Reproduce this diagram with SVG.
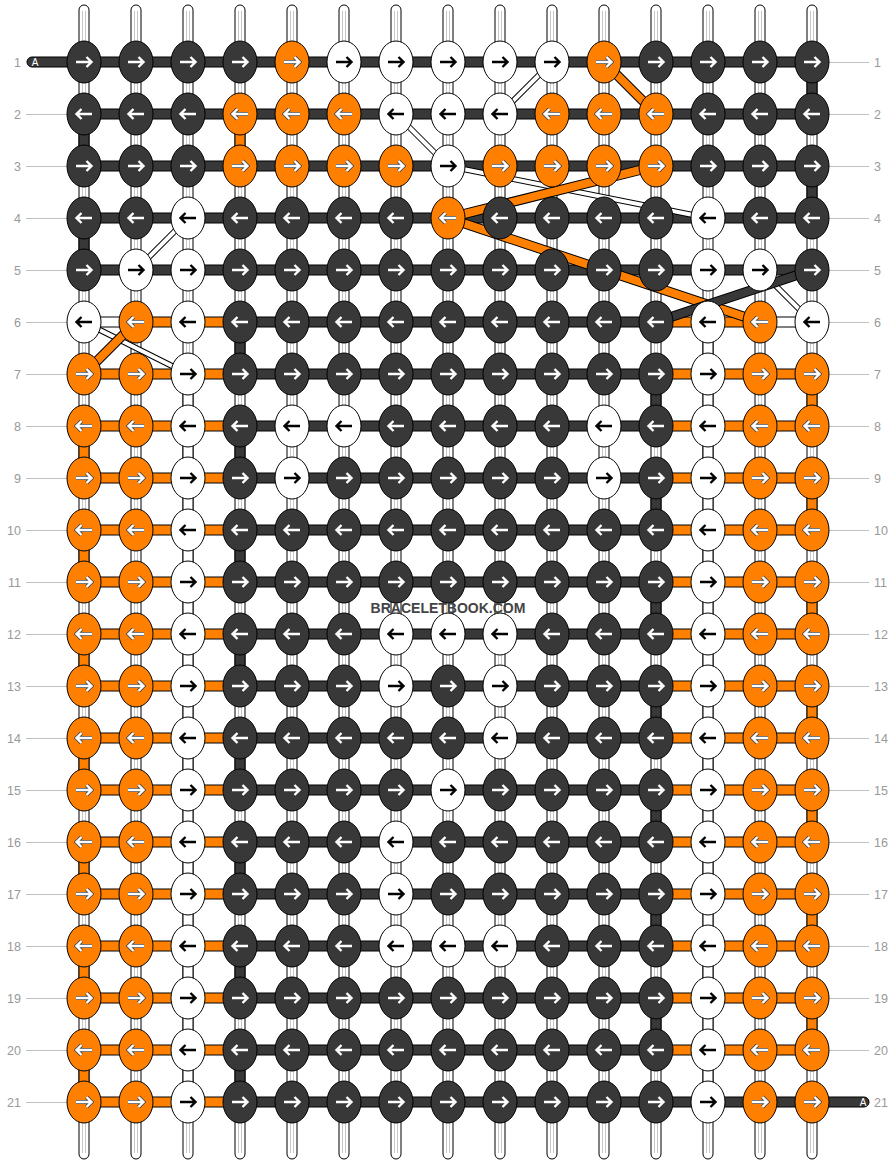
<svg xmlns="http://www.w3.org/2000/svg" width="896" height="1164" viewBox="0 0 896 1164">
<style>
.st{fill:#fff;stroke:#000;stroke-width:1}
.sl{fill:none;stroke:#c8c8c8;stroke-width:1}
.d{fill:#383838;stroke:#000;stroke-width:1}
.o{fill:#ff8000;stroke:#000;stroke-width:1}
.w{fill:#fff;stroke:#000;stroke-width:1}
.aw{fill:none;stroke:#fff;stroke-width:2.4}
.ao{fill:none;stroke:#4a4a4a;stroke-width:4}
.ab{fill:none;stroke:#000;stroke-width:2.4}
.lab{font-family:'Liberation Sans',Arial,sans-serif;font-size:12.5px;fill:#999}
.ll{fill:none;stroke:#c0c0c0;stroke-width:1}
.bk{fill:none;stroke:#000;stroke-width:10}
.bo{fill:none;stroke:#ff8000;stroke-width:8}
.bd{fill:none;stroke:#383838;stroke-width:8}
.wk{fill:none;stroke:#000;stroke-width:6}
.ww{fill:none;stroke:#fff;stroke-width:4}
.pa{font-family:'Liberation Sans',Arial,sans-serif;font-size:10px;fill:#fff;text-anchor:middle}
</style>
<defs>
<g id="Dr"><ellipse rx="17" ry="21" class="d"/><path class="aw" d="M-8,0H7M2.5,-5L7.5,0L2.5,5"/></g>
<g id="Dl"><ellipse rx="17" ry="21" class="d"/><path class="aw" d="M8,0H-7M-2.5,-5L-7.5,0L-2.5,5"/></g>
<g id="Or"><ellipse rx="17" ry="21" class="o"/><path class="ao" d="M-8,0H7M2.5,-5L7.5,0L2.5,5"/><path class="aw" d="M-8,0H7M2.5,-5L7.5,0L2.5,5"/></g>
<g id="Ol"><ellipse rx="17" ry="21" class="o"/><path class="ao" d="M8,0H-7M-2.5,-5L-7.5,0L-2.5,5"/><path class="aw" d="M8,0H-7M-2.5,-5L-7.5,0L-2.5,5"/></g>
<g id="Wr"><ellipse rx="17" ry="21" class="w"/><path class="ab" d="M-8,0H7M2.5,-5L7.5,0L2.5,5"/></g>
<g id="Wl"><ellipse rx="17" ry="21" class="w"/><path class="ab" d="M8,0H-7M-2.5,-5L-7.5,0L-2.5,5"/></g>
</defs>

<g id="labels">
<path class="ll" d="M26 114.5H67M26 166.5H67M26 218.5H67M26 270.5H67M26 322.5H67M26 374.5H67M26 426.5H67M26 478.5H67M26 530.5H67M26 582.5H67M26 634.5H67M26 686.5H67M26 738.5H67M26 790.5H67M26 842.5H67M26 894.5H67M26 946.5H67M26 998.5H67M26 1050.5H67M26 1102.5H67"/>
<path class="ll" d="M829 62.5H869M829 114.5H869M829 166.5H869M829 218.5H869M829 270.5H869M829 322.5H869M829 374.5H869M829 426.5H869M829 478.5H869M829 530.5H869M829 582.5H869M829 634.5H869M829 686.5H869M829 738.5H869M829 790.5H869M829 842.5H869M829 894.5H869M829 946.5H869M829 998.5H869M829 1050.5H869"/>
<g class="lab" text-anchor="end">
<text x="21" y="66.5">1</text><text x="21" y="118.5">2</text><text x="21" y="170.5">3</text><text x="21" y="222.5">4</text><text x="21" y="274.5">5</text><text x="21" y="326.5">6</text><text x="21" y="378.5">7</text><text x="21" y="430.5">8</text><text x="21" y="482.5">9</text><text x="21" y="534.5">10</text><text x="21" y="586.5">11</text><text x="21" y="638.5">12</text><text x="21" y="690.5">13</text><text x="21" y="742.5">14</text><text x="21" y="794.5">15</text><text x="21" y="846.5">16</text><text x="21" y="898.5">17</text><text x="21" y="950.5">18</text><text x="21" y="1002.5">19</text><text x="21" y="1054.5">20</text><text x="21" y="1106.5">21</text>
</g>
<g class="lab">
<text x="874" y="66.5">1</text><text x="874" y="118.5">2</text><text x="874" y="170.5">3</text><text x="874" y="222.5">4</text><text x="874" y="274.5">5</text><text x="874" y="326.5">6</text><text x="874" y="378.5">7</text><text x="874" y="430.5">8</text><text x="874" y="482.5">9</text><text x="874" y="534.5">10</text><text x="874" y="586.5">11</text><text x="874" y="638.5">12</text><text x="874" y="690.5">13</text><text x="874" y="742.5">14</text><text x="874" y="794.5">15</text><text x="874" y="846.5">16</text><text x="874" y="898.5">17</text><text x="874" y="950.5">18</text><text x="874" y="1002.5">19</text><text x="874" y="1054.5">20</text><text x="874" y="1106.5">21</text>
</g>
</g>

<g id="strands">
<rect class="st" x="79" y="5" width="10" height="1154" rx="5"/>
<rect class="st" x="131" y="5" width="10" height="1154" rx="5"/>
<rect class="st" x="183" y="5" width="10" height="1154" rx="5"/>
<rect class="st" x="235" y="5" width="10" height="1154" rx="5"/>
<rect class="st" x="287" y="5" width="10" height="1154" rx="5"/>
<rect class="st" x="339" y="5" width="10" height="1154" rx="5"/>
<rect class="st" x="391" y="5" width="10" height="1154" rx="5"/>
<rect class="st" x="443" y="5" width="10" height="1154" rx="5"/>
<rect class="st" x="495" y="5" width="10" height="1154" rx="5"/>
<rect class="st" x="547" y="5" width="10" height="1154" rx="5"/>
<rect class="st" x="599" y="5" width="10" height="1154" rx="5"/>
<rect class="st" x="651" y="5" width="10" height="1154" rx="5"/>
<rect class="st" x="703" y="5" width="10" height="1154" rx="5"/>
<rect class="st" x="755" y="5" width="10" height="1154" rx="5"/>
<rect class="st" x="807" y="5" width="10" height="1154" rx="5"/>
<path class="sl" d="M82.5 11V1153M85.5 11V1153M134.5 11V1153M137.5 11V1153M186.5 11V1153M189.5 11V1153M238.5 11V1153M241.5 11V1153M290.5 11V1153M293.5 11V1153M342.5 11V1153M345.5 11V1153M394.5 11V1153M397.5 11V1153M446.5 11V1153M449.5 11V1153M498.5 11V1153M501.5 11V1153M550.5 11V1153M553.5 11V1153M602.5 11V1153M605.5 11V1153M654.5 11V1153M657.5 11V1153M706.5 11V1153M709.5 11V1153M758.5 11V1153M761.5 11V1153M810.5 11V1153M813.5 11V1153"/>
</g>

<g id="connectors">
<g id="vertical">
<rect class="w" x="183" y="374" width="10" height="728"/>
<rect class="w" x="703" y="322" width="10" height="780"/>
<rect class="d" x="79" y="128" width="10" height="24"/>
<rect class="d" x="79" y="232" width="10" height="24"/>
<rect class="d" x="807" y="76" width="10" height="24"/>
<rect class="d" x="807" y="180" width="10" height="24"/>
<rect class="o" x="235" y="128" width="10" height="24"/>
<rect class="d" x="235" y="336" width="10" height="24"/>
<rect class="d" x="235" y="440" width="10" height="24"/>
<rect class="d" x="235" y="544" width="10" height="24"/>
<rect class="d" x="235" y="648" width="10" height="24"/>
<rect class="d" x="235" y="752" width="10" height="24"/>
<rect class="d" x="235" y="856" width="10" height="24"/>
<rect class="d" x="235" y="960" width="10" height="24"/>
<rect class="d" x="235" y="1064" width="10" height="24"/>
<rect class="d" x="651" y="388" width="10" height="24"/>
<rect class="d" x="651" y="492" width="10" height="24"/>
<rect class="d" x="651" y="596" width="10" height="24"/>
<rect class="d" x="651" y="700" width="10" height="24"/>
<rect class="d" x="651" y="804" width="10" height="24"/>
<rect class="d" x="651" y="908" width="10" height="24"/>
<rect class="d" x="651" y="1012" width="10" height="24"/>
<rect class="o" x="79" y="440" width="10" height="24"/>
<rect class="o" x="79" y="544" width="10" height="24"/>
<rect class="o" x="79" y="648" width="10" height="24"/>
<rect class="o" x="79" y="752" width="10" height="24"/>
<rect class="o" x="79" y="856" width="10" height="24"/>
<rect class="o" x="79" y="960" width="10" height="24"/>
<rect class="o" x="79" y="1064" width="10" height="24"/>
<rect class="o" x="807" y="388" width="10" height="24"/>
<rect class="o" x="807" y="492" width="10" height="24"/>
<rect class="o" x="807" y="596" width="10" height="24"/>
<rect class="o" x="807" y="700" width="10" height="24"/>
<rect class="o" x="807" y="804" width="10" height="24"/>
<rect class="o" x="807" y="908" width="10" height="24"/>
<rect class="o" x="807" y="1012" width="10" height="24"/>
</g>
<g id="rows">
<rect class="d" x="27" y="57" width="785" height="10" rx="5"/>
<rect class="d" x="84" y="109" width="728" height="10"/>
<rect class="d" x="84" y="161" width="728" height="10"/>
<rect class="d" x="84" y="213" width="728" height="10"/>
<rect class="d" x="84" y="265" width="728" height="10"/>
<rect class="w" x="84" y="317" width="52" height="10"/><rect class="o" x="136" y="317" width="104" height="10"/><rect class="d" x="240" y="317" width="416" height="10"/><rect class="o" x="656" y="317" width="104" height="10"/><rect class="w" x="760" y="317" width="52" height="10"/>
<rect class="o" x="84" y="369" width="156" height="10"/><rect class="d" x="240" y="369" width="416" height="10"/><rect class="o" x="656" y="369" width="156" height="10"/>
<rect class="o" x="84" y="421" width="156" height="10"/><rect class="d" x="240" y="421" width="416" height="10"/><rect class="o" x="656" y="421" width="156" height="10"/>
<rect class="o" x="84" y="473" width="156" height="10"/><rect class="d" x="240" y="473" width="416" height="10"/><rect class="o" x="656" y="473" width="156" height="10"/>
<rect class="o" x="84" y="525" width="156" height="10"/><rect class="d" x="240" y="525" width="416" height="10"/><rect class="o" x="656" y="525" width="156" height="10"/>
<rect class="o" x="84" y="577" width="156" height="10"/><rect class="d" x="240" y="577" width="416" height="10"/><rect class="o" x="656" y="577" width="156" height="10"/>
<rect class="o" x="84" y="629" width="156" height="10"/><rect class="d" x="240" y="629" width="416" height="10"/><rect class="o" x="656" y="629" width="156" height="10"/>
<rect class="o" x="84" y="681" width="156" height="10"/><rect class="d" x="240" y="681" width="416" height="10"/><rect class="o" x="656" y="681" width="156" height="10"/>
<rect class="o" x="84" y="733" width="156" height="10"/><rect class="d" x="240" y="733" width="416" height="10"/><rect class="o" x="656" y="733" width="156" height="10"/>
<rect class="o" x="84" y="785" width="156" height="10"/><rect class="d" x="240" y="785" width="416" height="10"/><rect class="o" x="656" y="785" width="156" height="10"/>
<rect class="o" x="84" y="837" width="156" height="10"/><rect class="d" x="240" y="837" width="416" height="10"/><rect class="o" x="656" y="837" width="156" height="10"/>
<rect class="o" x="84" y="889" width="156" height="10"/><rect class="d" x="240" y="889" width="416" height="10"/><rect class="o" x="656" y="889" width="156" height="10"/>
<rect class="o" x="84" y="941" width="156" height="10"/><rect class="d" x="240" y="941" width="416" height="10"/><rect class="o" x="656" y="941" width="156" height="10"/>
<rect class="o" x="84" y="993" width="156" height="10"/><rect class="d" x="240" y="993" width="416" height="10"/><rect class="o" x="656" y="993" width="156" height="10"/>
<rect class="o" x="84" y="1045" width="156" height="10"/><rect class="d" x="240" y="1045" width="416" height="10"/><rect class="o" x="656" y="1045" width="156" height="10"/>
<rect class="o" x="84" y="1097" width="156" height="10"/><rect class="d" x="240" y="1097" width="629" height="10" rx="5"/>
<text class="pa" x="35" y="65.5">A</text>
<text class="pa" x="863" y="1105.5">A</text>
</g>
<g id="diagonals">
<path class="wk" d="M552 62L500 114M396 114L448 166M448 166L708 218M188 218L136 270M760 270L812 322M84 322L188 374"/>
<path class="ww" d="M552 62L500 114M396 114L448 166M448 166L708 218M188 218L136 270M760 270L812 322M84 322L188 374"/>
<path class="bk" d="M604 62L656 114M656 166L448 218M448 218L760 322M136 322L84 374"/>
<path class="bo" d="M604 62L656 114M656 166L448 218M448 218L760 322M136 322L84 374"/>
<path class="bk" d="M812 270L656 322"/>
<path class="bd" d="M812 270L656 322"/>
</g>
</g>

<g id="knots">
<g id="k1-1"><use href="#Dr" x="84" y="62"/></g><g id="k1-2"><use href="#Dr" x="136" y="62"/></g><g id="k1-3"><use href="#Dr" x="188" y="62"/></g><g id="k1-4"><use href="#Dr" x="240" y="62"/></g><g id="k1-5"><use href="#Or" x="292" y="62"/></g><g id="k1-6"><use href="#Wr" x="344" y="62"/></g><g id="k1-7"><use href="#Wr" x="396" y="62"/></g><g id="k1-8"><use href="#Wr" x="448" y="62"/></g><g id="k1-9"><use href="#Wr" x="500" y="62"/></g><g id="k1-10"><use href="#Wr" x="552" y="62"/></g><g id="k1-11"><use href="#Or" x="604" y="62"/></g><g id="k1-12"><use href="#Dr" x="656" y="62"/></g><g id="k1-13"><use href="#Dr" x="708" y="62"/></g><g id="k1-14"><use href="#Dr" x="760" y="62"/></g><g id="k1-15"><use href="#Dr" x="812" y="62"/></g>
<g id="k2-1"><use href="#Dl" x="84" y="114"/></g><g id="k2-2"><use href="#Dl" x="136" y="114"/></g><g id="k2-3"><use href="#Dl" x="188" y="114"/></g><g id="k2-4"><use href="#Ol" x="240" y="114"/></g><g id="k2-5"><use href="#Ol" x="292" y="114"/></g><g id="k2-6"><use href="#Ol" x="344" y="114"/></g><g id="k2-7"><use href="#Wl" x="396" y="114"/></g><g id="k2-8"><use href="#Wl" x="448" y="114"/></g><g id="k2-9"><use href="#Wl" x="500" y="114"/></g><g id="k2-10"><use href="#Ol" x="552" y="114"/></g><g id="k2-11"><use href="#Ol" x="604" y="114"/></g><g id="k2-12"><use href="#Ol" x="656" y="114"/></g><g id="k2-13"><use href="#Dl" x="708" y="114"/></g><g id="k2-14"><use href="#Dl" x="760" y="114"/></g><g id="k2-15"><use href="#Dl" x="812" y="114"/></g>
<g id="k3-1"><use href="#Dr" x="84" y="166"/></g><g id="k3-2"><use href="#Dr" x="136" y="166"/></g><g id="k3-3"><use href="#Dr" x="188" y="166"/></g><g id="k3-4"><use href="#Or" x="240" y="166"/></g><g id="k3-5"><use href="#Or" x="292" y="166"/></g><g id="k3-6"><use href="#Or" x="344" y="166"/></g><g id="k3-7"><use href="#Or" x="396" y="166"/></g><g id="k3-8"><use href="#Wr" x="448" y="166"/></g><g id="k3-9"><use href="#Or" x="500" y="166"/></g><g id="k3-10"><use href="#Or" x="552" y="166"/></g><g id="k3-11"><use href="#Or" x="604" y="166"/></g><g id="k3-12"><use href="#Or" x="656" y="166"/></g><g id="k3-13"><use href="#Dr" x="708" y="166"/></g><g id="k3-14"><use href="#Dr" x="760" y="166"/></g><g id="k3-15"><use href="#Dr" x="812" y="166"/></g>
<g id="k4-1"><use href="#Dl" x="84" y="218"/></g><g id="k4-2"><use href="#Dl" x="136" y="218"/></g><g id="k4-3"><use href="#Wl" x="188" y="218"/></g><g id="k4-4"><use href="#Dl" x="240" y="218"/></g><g id="k4-5"><use href="#Dl" x="292" y="218"/></g><g id="k4-6"><use href="#Dl" x="344" y="218"/></g><g id="k4-7"><use href="#Dl" x="396" y="218"/></g><g id="k4-8"><use href="#Ol" x="448" y="218"/></g><g id="k4-9"><use href="#Dl" x="500" y="218"/></g><g id="k4-10"><use href="#Dl" x="552" y="218"/></g><g id="k4-11"><use href="#Dl" x="604" y="218"/></g><g id="k4-12"><use href="#Dl" x="656" y="218"/></g><g id="k4-13"><use href="#Wl" x="708" y="218"/></g><g id="k4-14"><use href="#Dl" x="760" y="218"/></g><g id="k4-15"><use href="#Dl" x="812" y="218"/></g>
<g id="k5-1"><use href="#Dr" x="84" y="270"/></g><g id="k5-2"><use href="#Wr" x="136" y="270"/></g><g id="k5-3"><use href="#Wr" x="188" y="270"/></g><g id="k5-4"><use href="#Dr" x="240" y="270"/></g><g id="k5-5"><use href="#Dr" x="292" y="270"/></g><g id="k5-6"><use href="#Dr" x="344" y="270"/></g><g id="k5-7"><use href="#Dr" x="396" y="270"/></g><g id="k5-8"><use href="#Dr" x="448" y="270"/></g><g id="k5-9"><use href="#Dr" x="500" y="270"/></g><g id="k5-10"><use href="#Dr" x="552" y="270"/></g><g id="k5-11"><use href="#Dr" x="604" y="270"/></g><g id="k5-12"><use href="#Dr" x="656" y="270"/></g><g id="k5-13"><use href="#Wr" x="708" y="270"/></g><g id="k5-14"><use href="#Wr" x="760" y="270"/></g><g id="k5-15"><use href="#Dr" x="812" y="270"/></g>
<g id="k6-1"><use href="#Wl" x="84" y="322"/></g><g id="k6-2"><use href="#Ol" x="136" y="322"/></g><g id="k6-3"><use href="#Wl" x="188" y="322"/></g><g id="k6-4"><use href="#Dl" x="240" y="322"/></g><g id="k6-5"><use href="#Dl" x="292" y="322"/></g><g id="k6-6"><use href="#Dl" x="344" y="322"/></g><g id="k6-7"><use href="#Dl" x="396" y="322"/></g><g id="k6-8"><use href="#Dl" x="448" y="322"/></g><g id="k6-9"><use href="#Dl" x="500" y="322"/></g><g id="k6-10"><use href="#Dl" x="552" y="322"/></g><g id="k6-11"><use href="#Dl" x="604" y="322"/></g><g id="k6-12"><use href="#Dl" x="656" y="322"/></g><g id="k6-13"><use href="#Wl" x="708" y="322"/></g><g id="k6-14"><use href="#Ol" x="760" y="322"/></g><g id="k6-15"><use href="#Wl" x="812" y="322"/></g>
<g id="k7-1"><use href="#Or" x="84" y="374"/></g><g id="k7-2"><use href="#Or" x="136" y="374"/></g><g id="k7-3"><use href="#Wr" x="188" y="374"/></g><g id="k7-4"><use href="#Dr" x="240" y="374"/></g><g id="k7-5"><use href="#Dr" x="292" y="374"/></g><g id="k7-6"><use href="#Dr" x="344" y="374"/></g><g id="k7-7"><use href="#Dr" x="396" y="374"/></g><g id="k7-8"><use href="#Dr" x="448" y="374"/></g><g id="k7-9"><use href="#Dr" x="500" y="374"/></g><g id="k7-10"><use href="#Dr" x="552" y="374"/></g><g id="k7-11"><use href="#Dr" x="604" y="374"/></g><g id="k7-12"><use href="#Dr" x="656" y="374"/></g><g id="k7-13"><use href="#Wr" x="708" y="374"/></g><g id="k7-14"><use href="#Or" x="760" y="374"/></g><g id="k7-15"><use href="#Or" x="812" y="374"/></g>
<g id="k8-1"><use href="#Ol" x="84" y="426"/></g><g id="k8-2"><use href="#Ol" x="136" y="426"/></g><g id="k8-3"><use href="#Wl" x="188" y="426"/></g><g id="k8-4"><use href="#Dl" x="240" y="426"/></g><g id="k8-5"><use href="#Wl" x="292" y="426"/></g><g id="k8-6"><use href="#Wl" x="344" y="426"/></g><g id="k8-7"><use href="#Dl" x="396" y="426"/></g><g id="k8-8"><use href="#Dl" x="448" y="426"/></g><g id="k8-9"><use href="#Dl" x="500" y="426"/></g><g id="k8-10"><use href="#Dl" x="552" y="426"/></g><g id="k8-11"><use href="#Wl" x="604" y="426"/></g><g id="k8-12"><use href="#Dl" x="656" y="426"/></g><g id="k8-13"><use href="#Wl" x="708" y="426"/></g><g id="k8-14"><use href="#Ol" x="760" y="426"/></g><g id="k8-15"><use href="#Ol" x="812" y="426"/></g>
<g id="k9-1"><use href="#Or" x="84" y="478"/></g><g id="k9-2"><use href="#Or" x="136" y="478"/></g><g id="k9-3"><use href="#Wr" x="188" y="478"/></g><g id="k9-4"><use href="#Dr" x="240" y="478"/></g><g id="k9-5"><use href="#Wr" x="292" y="478"/></g><g id="k9-6"><use href="#Dr" x="344" y="478"/></g><g id="k9-7"><use href="#Dr" x="396" y="478"/></g><g id="k9-8"><use href="#Dr" x="448" y="478"/></g><g id="k9-9"><use href="#Dr" x="500" y="478"/></g><g id="k9-10"><use href="#Dr" x="552" y="478"/></g><g id="k9-11"><use href="#Wr" x="604" y="478"/></g><g id="k9-12"><use href="#Dr" x="656" y="478"/></g><g id="k9-13"><use href="#Wr" x="708" y="478"/></g><g id="k9-14"><use href="#Or" x="760" y="478"/></g><g id="k9-15"><use href="#Or" x="812" y="478"/></g>
<g id="k10-1"><use href="#Ol" x="84" y="530"/></g><g id="k10-2"><use href="#Ol" x="136" y="530"/></g><g id="k10-3"><use href="#Wl" x="188" y="530"/></g><g id="k10-4"><use href="#Dl" x="240" y="530"/></g><g id="k10-5"><use href="#Dl" x="292" y="530"/></g><g id="k10-6"><use href="#Dl" x="344" y="530"/></g><g id="k10-7"><use href="#Dl" x="396" y="530"/></g><g id="k10-8"><use href="#Dl" x="448" y="530"/></g><g id="k10-9"><use href="#Dl" x="500" y="530"/></g><g id="k10-10"><use href="#Dl" x="552" y="530"/></g><g id="k10-11"><use href="#Dl" x="604" y="530"/></g><g id="k10-12"><use href="#Dl" x="656" y="530"/></g><g id="k10-13"><use href="#Wl" x="708" y="530"/></g><g id="k10-14"><use href="#Ol" x="760" y="530"/></g><g id="k10-15"><use href="#Ol" x="812" y="530"/></g>
<g id="k11-1"><use href="#Or" x="84" y="582"/></g><g id="k11-2"><use href="#Or" x="136" y="582"/></g><g id="k11-3"><use href="#Wr" x="188" y="582"/></g><g id="k11-4"><use href="#Dr" x="240" y="582"/></g><g id="k11-5"><use href="#Dr" x="292" y="582"/></g><g id="k11-6"><use href="#Dr" x="344" y="582"/></g><g id="k11-7"><use href="#Dr" x="396" y="582"/></g><g id="k11-8"><use href="#Dr" x="448" y="582"/></g><g id="k11-9"><use href="#Dr" x="500" y="582"/></g><g id="k11-10"><use href="#Dr" x="552" y="582"/></g><g id="k11-11"><use href="#Dr" x="604" y="582"/></g><g id="k11-12"><use href="#Dr" x="656" y="582"/></g><g id="k11-13"><use href="#Wr" x="708" y="582"/></g><g id="k11-14"><use href="#Or" x="760" y="582"/></g><g id="k11-15"><use href="#Or" x="812" y="582"/></g>
<g id="k12-1"><use href="#Ol" x="84" y="634"/></g><g id="k12-2"><use href="#Ol" x="136" y="634"/></g><g id="k12-3"><use href="#Wl" x="188" y="634"/></g><g id="k12-4"><use href="#Dl" x="240" y="634"/></g><g id="k12-5"><use href="#Dl" x="292" y="634"/></g><g id="k12-6"><use href="#Dl" x="344" y="634"/></g><g id="k12-7"><use href="#Wl" x="396" y="634"/></g><g id="k12-8"><use href="#Wl" x="448" y="634"/></g><g id="k12-9"><use href="#Wl" x="500" y="634"/></g><g id="k12-10"><use href="#Dl" x="552" y="634"/></g><g id="k12-11"><use href="#Dl" x="604" y="634"/></g><g id="k12-12"><use href="#Dl" x="656" y="634"/></g><g id="k12-13"><use href="#Wl" x="708" y="634"/></g><g id="k12-14"><use href="#Ol" x="760" y="634"/></g><g id="k12-15"><use href="#Ol" x="812" y="634"/></g>
<g id="k13-1"><use href="#Or" x="84" y="686"/></g><g id="k13-2"><use href="#Or" x="136" y="686"/></g><g id="k13-3"><use href="#Wr" x="188" y="686"/></g><g id="k13-4"><use href="#Dr" x="240" y="686"/></g><g id="k13-5"><use href="#Dr" x="292" y="686"/></g><g id="k13-6"><use href="#Dr" x="344" y="686"/></g><g id="k13-7"><use href="#Wr" x="396" y="686"/></g><g id="k13-8"><use href="#Dr" x="448" y="686"/></g><g id="k13-9"><use href="#Wr" x="500" y="686"/></g><g id="k13-10"><use href="#Dr" x="552" y="686"/></g><g id="k13-11"><use href="#Dr" x="604" y="686"/></g><g id="k13-12"><use href="#Dr" x="656" y="686"/></g><g id="k13-13"><use href="#Wr" x="708" y="686"/></g><g id="k13-14"><use href="#Or" x="760" y="686"/></g><g id="k13-15"><use href="#Or" x="812" y="686"/></g>
<g id="k14-1"><use href="#Ol" x="84" y="738"/></g><g id="k14-2"><use href="#Ol" x="136" y="738"/></g><g id="k14-3"><use href="#Wl" x="188" y="738"/></g><g id="k14-4"><use href="#Dl" x="240" y="738"/></g><g id="k14-5"><use href="#Dl" x="292" y="738"/></g><g id="k14-6"><use href="#Dl" x="344" y="738"/></g><g id="k14-7"><use href="#Dl" x="396" y="738"/></g><g id="k14-8"><use href="#Dl" x="448" y="738"/></g><g id="k14-9"><use href="#Wl" x="500" y="738"/></g><g id="k14-10"><use href="#Dl" x="552" y="738"/></g><g id="k14-11"><use href="#Dl" x="604" y="738"/></g><g id="k14-12"><use href="#Dl" x="656" y="738"/></g><g id="k14-13"><use href="#Wl" x="708" y="738"/></g><g id="k14-14"><use href="#Ol" x="760" y="738"/></g><g id="k14-15"><use href="#Ol" x="812" y="738"/></g>
<g id="k15-1"><use href="#Or" x="84" y="790"/></g><g id="k15-2"><use href="#Or" x="136" y="790"/></g><g id="k15-3"><use href="#Wr" x="188" y="790"/></g><g id="k15-4"><use href="#Dr" x="240" y="790"/></g><g id="k15-5"><use href="#Dr" x="292" y="790"/></g><g id="k15-6"><use href="#Dr" x="344" y="790"/></g><g id="k15-7"><use href="#Dr" x="396" y="790"/></g><g id="k15-8"><use href="#Wr" x="448" y="790"/></g><g id="k15-9"><use href="#Dr" x="500" y="790"/></g><g id="k15-10"><use href="#Dr" x="552" y="790"/></g><g id="k15-11"><use href="#Dr" x="604" y="790"/></g><g id="k15-12"><use href="#Dr" x="656" y="790"/></g><g id="k15-13"><use href="#Wr" x="708" y="790"/></g><g id="k15-14"><use href="#Or" x="760" y="790"/></g><g id="k15-15"><use href="#Or" x="812" y="790"/></g>
<g id="k16-1"><use href="#Ol" x="84" y="842"/></g><g id="k16-2"><use href="#Ol" x="136" y="842"/></g><g id="k16-3"><use href="#Wl" x="188" y="842"/></g><g id="k16-4"><use href="#Dl" x="240" y="842"/></g><g id="k16-5"><use href="#Dl" x="292" y="842"/></g><g id="k16-6"><use href="#Dl" x="344" y="842"/></g><g id="k16-7"><use href="#Wl" x="396" y="842"/></g><g id="k16-8"><use href="#Dl" x="448" y="842"/></g><g id="k16-9"><use href="#Dl" x="500" y="842"/></g><g id="k16-10"><use href="#Dl" x="552" y="842"/></g><g id="k16-11"><use href="#Dl" x="604" y="842"/></g><g id="k16-12"><use href="#Dl" x="656" y="842"/></g><g id="k16-13"><use href="#Wl" x="708" y="842"/></g><g id="k16-14"><use href="#Ol" x="760" y="842"/></g><g id="k16-15"><use href="#Ol" x="812" y="842"/></g>
<g id="k17-1"><use href="#Or" x="84" y="894"/></g><g id="k17-2"><use href="#Or" x="136" y="894"/></g><g id="k17-3"><use href="#Wr" x="188" y="894"/></g><g id="k17-4"><use href="#Dr" x="240" y="894"/></g><g id="k17-5"><use href="#Dr" x="292" y="894"/></g><g id="k17-6"><use href="#Dr" x="344" y="894"/></g><g id="k17-7"><use href="#Wr" x="396" y="894"/></g><g id="k17-8"><use href="#Dr" x="448" y="894"/></g><g id="k17-9"><use href="#Dr" x="500" y="894"/></g><g id="k17-10"><use href="#Dr" x="552" y="894"/></g><g id="k17-11"><use href="#Dr" x="604" y="894"/></g><g id="k17-12"><use href="#Dr" x="656" y="894"/></g><g id="k17-13"><use href="#Wr" x="708" y="894"/></g><g id="k17-14"><use href="#Or" x="760" y="894"/></g><g id="k17-15"><use href="#Or" x="812" y="894"/></g>
<g id="k18-1"><use href="#Ol" x="84" y="946"/></g><g id="k18-2"><use href="#Ol" x="136" y="946"/></g><g id="k18-3"><use href="#Wl" x="188" y="946"/></g><g id="k18-4"><use href="#Dl" x="240" y="946"/></g><g id="k18-5"><use href="#Dl" x="292" y="946"/></g><g id="k18-6"><use href="#Dl" x="344" y="946"/></g><g id="k18-7"><use href="#Wl" x="396" y="946"/></g><g id="k18-8"><use href="#Wl" x="448" y="946"/></g><g id="k18-9"><use href="#Wl" x="500" y="946"/></g><g id="k18-10"><use href="#Dl" x="552" y="946"/></g><g id="k18-11"><use href="#Dl" x="604" y="946"/></g><g id="k18-12"><use href="#Dl" x="656" y="946"/></g><g id="k18-13"><use href="#Wl" x="708" y="946"/></g><g id="k18-14"><use href="#Ol" x="760" y="946"/></g><g id="k18-15"><use href="#Ol" x="812" y="946"/></g>
<g id="k19-1"><use href="#Or" x="84" y="998"/></g><g id="k19-2"><use href="#Or" x="136" y="998"/></g><g id="k19-3"><use href="#Wr" x="188" y="998"/></g><g id="k19-4"><use href="#Dr" x="240" y="998"/></g><g id="k19-5"><use href="#Dr" x="292" y="998"/></g><g id="k19-6"><use href="#Dr" x="344" y="998"/></g><g id="k19-7"><use href="#Dr" x="396" y="998"/></g><g id="k19-8"><use href="#Dr" x="448" y="998"/></g><g id="k19-9"><use href="#Dr" x="500" y="998"/></g><g id="k19-10"><use href="#Dr" x="552" y="998"/></g><g id="k19-11"><use href="#Dr" x="604" y="998"/></g><g id="k19-12"><use href="#Dr" x="656" y="998"/></g><g id="k19-13"><use href="#Wr" x="708" y="998"/></g><g id="k19-14"><use href="#Or" x="760" y="998"/></g><g id="k19-15"><use href="#Or" x="812" y="998"/></g>
<g id="k20-1"><use href="#Ol" x="84" y="1050"/></g><g id="k20-2"><use href="#Ol" x="136" y="1050"/></g><g id="k20-3"><use href="#Wl" x="188" y="1050"/></g><g id="k20-4"><use href="#Dl" x="240" y="1050"/></g><g id="k20-5"><use href="#Dl" x="292" y="1050"/></g><g id="k20-6"><use href="#Dl" x="344" y="1050"/></g><g id="k20-7"><use href="#Dl" x="396" y="1050"/></g><g id="k20-8"><use href="#Dl" x="448" y="1050"/></g><g id="k20-9"><use href="#Dl" x="500" y="1050"/></g><g id="k20-10"><use href="#Dl" x="552" y="1050"/></g><g id="k20-11"><use href="#Dl" x="604" y="1050"/></g><g id="k20-12"><use href="#Dl" x="656" y="1050"/></g><g id="k20-13"><use href="#Wl" x="708" y="1050"/></g><g id="k20-14"><use href="#Ol" x="760" y="1050"/></g><g id="k20-15"><use href="#Ol" x="812" y="1050"/></g>
<g id="k21-1"><use href="#Or" x="84" y="1102"/></g><g id="k21-2"><use href="#Or" x="136" y="1102"/></g><g id="k21-3"><use href="#Wr" x="188" y="1102"/></g><g id="k21-4"><use href="#Dr" x="240" y="1102"/></g><g id="k21-5"><use href="#Dr" x="292" y="1102"/></g><g id="k21-6"><use href="#Dr" x="344" y="1102"/></g><g id="k21-7"><use href="#Dr" x="396" y="1102"/></g><g id="k21-8"><use href="#Dr" x="448" y="1102"/></g><g id="k21-9"><use href="#Dr" x="500" y="1102"/></g><g id="k21-10"><use href="#Dr" x="552" y="1102"/></g><g id="k21-11"><use href="#Dr" x="604" y="1102"/></g><g id="k21-12"><use href="#Dr" x="656" y="1102"/></g><g id="k21-13"><use href="#Wr" x="708" y="1102"/></g><g id="k21-14"><use href="#Or" x="760" y="1102"/></g><g id="k21-15"><use href="#Or" x="812" y="1102"/></g>
</g>

<text id="watermark" x="448" y="613" font-family="'Liberation Sans',Arial,sans-serif" font-size="14" font-weight="bold" fill="#444" text-anchor="middle">BRACELETBOOK.COM</text>
</svg>
